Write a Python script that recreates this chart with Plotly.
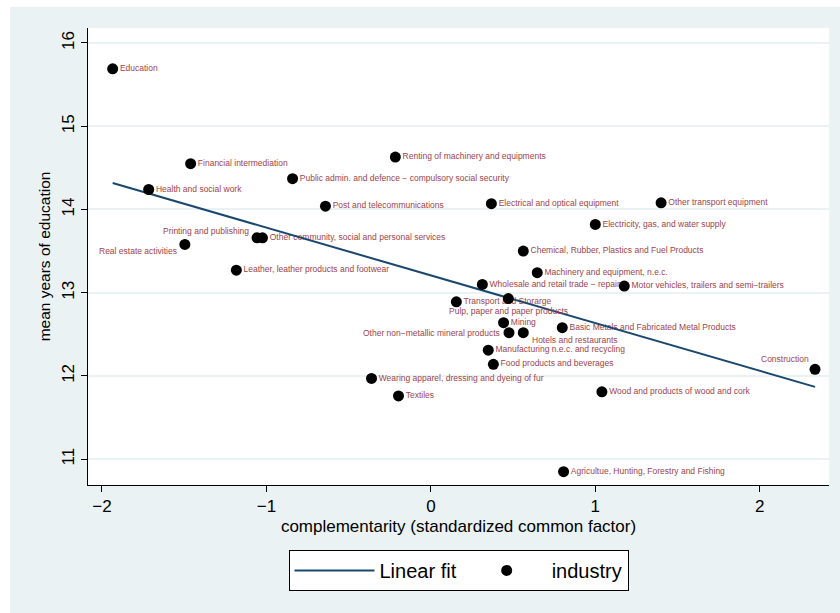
import numpy as np
import plotly.graph_objects as go

# Industry-level data: complementarity factor score vs mean years of education
industries = [
    "Education",
    "Financial intermediation",
    "Health and social work",
    "Renting of machinery and equipments",
    "Public admin. and defence − compulsory social security",
    "Post and telecommunications",
    "Electrical and optical equipment",
    "Other transport equipment",
    "Electricity, gas, and water supply",
    "Printing and publishing",
    "Other community, social and personal services",
    "Real estate activities",
    "Leather, leather products and footwear",
    "Chemical, Rubber, Plastics and Fuel Products",
    "Machinery and equipment, n.e.c.",
    "Wholesale and retail trade − repairs",
    "Motor vehicles, trailers and semi−trailers",
    "Transport and Storarge",
    "Pulp, paper and paper products",
    "Mining",
    "Other non−metallic mineral products",
    "Hotels and restaurants",
    "Basic Metals and Fabricated Metal Products",
    "Manufacturing n.e.c. and recycling",
    "Food products and beverages",
    "Wearing apparel, dressing and dyeing of fur",
    "Textiles",
    "Wood and products of wood and cork",
    "Agricultue, Hunting, Forestry and Fishing",
    "Construction",
]
complementarity = [
    -1.935, -1.461, -1.716, -0.216, -0.841, -0.641, 0.368, 1.400, 1.000,
    -1.057, -1.024, -1.496, -1.183, 0.562, 0.647, 0.313, 1.176, 0.155,
    0.471, 0.442, 0.475, 0.562, 0.799, 0.349, 0.380, -0.361, -0.197,
    1.040, 0.807, 2.336,
]
mean_educ = [
    15.69, 14.55, 14.24, 14.63, 14.37, 14.04, 14.07, 14.08, 13.82,
    13.66, 13.66, 13.58, 13.27, 13.50, 13.24, 13.10, 13.08, 12.89,
    12.93, 12.64, 12.52, 12.52, 12.58, 12.31, 12.14, 11.97, 11.76,
    11.81, 10.85, 12.08,
]

# Marker-label placement: labels default to the right of the marker;
# these ones sit elsewhere (xanchor, yanchor, xshift px, yshift px).
label_offsets = {
    "Printing and publishing": ("right", "middle", -7, 7),
    "Real estate activities": ("right", "middle", -7, -7),
    "Pulp, paper and paper products": ("center", "middle", 0, -12),
    "Other non−metallic mineral products": ("right", "middle", -8, 0),
    "Hotels and restaurants": ("left", "middle", 8, -7),
    "Construction": ("right", "middle", -5, 10),
}

x = np.array(complementarity)
y = np.array(mean_educ)
slope, intercept = np.polyfit(x, y, 1)
fit_x = np.array([x.min(), x.max()])
fit_y = intercept + slope * fit_x

BG = "#EAF2F3"
LABEL = "#A0434B"
FONT = "Liberation Sans, Arial, sans-serif"
LABEL_SIZE = 8.5

right_mask = [n not in label_offsets for n in industries]

fig = go.Figure()
# labels to the right of their markers (drawn first so marks sit on top)
fig.add_trace(go.Scatter(
    x=x[right_mask], y=y[right_mask],
    mode="markers+text",
    text=[n for n, m in zip(industries, right_mask) if m],
    textposition="middle right",
    textfont=dict(color=LABEL, size=LABEL_SIZE, family=FONT),
    marker=dict(size=10, color="rgba(0,0,0,0)"),
    showlegend=False, hoverinfo="skip",
))
fig.add_trace(go.Scatter(
    x=fit_x, y=fit_y, mode="lines", name="Linear fit",
    line=dict(color="#1A476F", width=2),
))
fig.add_trace(go.Scatter(
    x=x, y=y, mode="markers", name="industry",
    marker=dict(size=11, color="black"),
))

for name, xv, yv in zip(industries, complementarity, mean_educ):
    if name in label_offsets:
        xa, ya, dx, dy = label_offsets[name]
        fig.add_annotation(
            x=xv, y=yv, xref="x", yref="y", text=name, showarrow=False,
            xanchor=xa, yanchor=ya, xshift=dx, yshift=dy, borderpad=0,
            font=dict(color=LABEL, size=LABEL_SIZE, family=FONT),
        )

fig.update_layout(
    width=840, height=613,
    margin=dict(l=88, r=11, t=28, b=128),
    paper_bgcolor=BG, plot_bgcolor="white",
    font=dict(family=FONT, color="black"),
    showlegend=True,
    legend=dict(
        orientation="h", x=0.5, xanchor="center", y=-0.142, yanchor="top",
        bgcolor="white", bordercolor="black", borderwidth=1,
        font=dict(size=20, family=FONT), itemwidth=80,
    ),
    shapes=[
        dict(type="rect", xref="paper", yref="paper", layer="below",
             x0=-0.2, x1=(10 - 88) / 741, y0=-0.4, y1=1.2,
             fillcolor="white", line=dict(width=0)),
        dict(type="rect", xref="paper", yref="paper", layer="below",
             x0=-0.2, x1=1.2, y0=(485 - 7) / 457, y1=1.2,
             fillcolor="white", line=dict(width=0)),
    ],
)
fig.update_xaxes(
    range=[-2.085, 2.421], tickvals=[-2, -1, 0, 1, 2],
    ticktext=["−2", "−1", "0", "1", "2"],
    showgrid=False, zeroline=False,
    showline=True, linecolor="black", linewidth=1,
    ticks="outside", ticklen=6, tickcolor="black",
    tickfont=dict(size=17),
    title=dict(text="complementarity (standardized common factor)",
               font=dict(size=17), standoff=4),
)
fig.update_yaxes(
    range=[10.69, 16.18], tickvals=[11, 12, 13, 14, 15, 16],
    showgrid=True, gridcolor=BG, gridwidth=1.5, zeroline=False,
    showline=True, linecolor="black", linewidth=1,
    ticks="outside", ticklen=6, tickcolor="black",
    tickangle=-90, tickfont=dict(size=17),
    title=dict(text="mean years of education", font=dict(size=15.5), standoff=4),
)

fig.write_html("out.html")
